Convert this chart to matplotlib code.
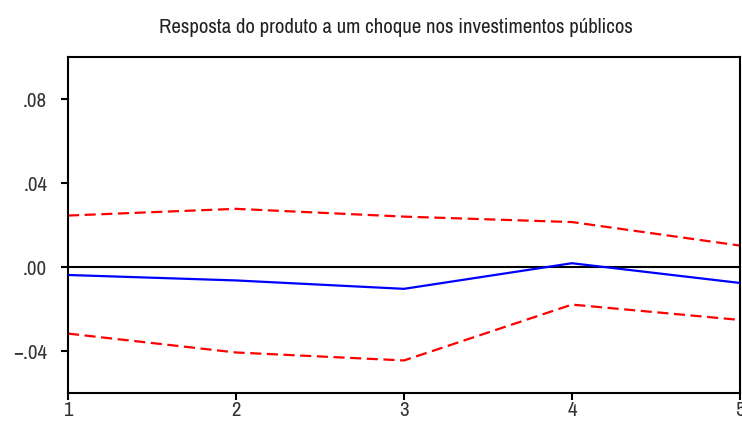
import matplotlib.pyplot as plt
from matplotlib import font_manager
from matplotlib.ticker import FixedLocator, FuncFormatter

# impulse response of output to a public investment shock, with +/- 2 s.e. bands
periods = [1, 2, 3, 4, 5]
response = [-0.0038, -0.0064, -0.0104, 0.0018, -0.0076]
upper_band = [0.0245, 0.0277, 0.0240, 0.0214, 0.0102]
lower_band = [-0.0317, -0.0407, -0.0445, -0.0179, -0.0252]

y_ticks = [-0.04, 0.00, 0.04, 0.08]

names = sorted({f.name for f in font_manager.fontManager.ttflist})
narrow = [n for n in names if 'Narrow' in n or 'Condensed' in n]
plt.rcParams['font.family'] = narrow[:1] + ['DejaVu Sans']
plt.rcParams['font.stretch'] = 'condensed'

fig = plt.figure(figsize=(7.42, 4.21), dpi=100)
ax = fig.add_axes([0.0916, 0.0665, 0.9057, 0.7981])

ax.axhline(0, color='black', lw=1.5, zorder=1)
ax.plot(periods, upper_band, color='#ff0000', lw=1.6, ls=(0, (5, 2.5)), zorder=2)
ax.plot(periods, lower_band, color='#ff0000', lw=1.6, ls=(0, (5, 2.5)), zorder=2)
ax.plot(periods, response, color='#0000ff', lw=1.6, zorder=3)

ax.set_xlim(1, 5)
ax.set_ylim(-0.06, 0.10)
ax.xaxis.set_major_locator(FixedLocator(periods))
ax.yaxis.set_major_locator(FixedLocator(y_ticks))


def fmt(v, pos):
    s = f"{abs(v):.2f}".lstrip('0')
    return ('\u2212' + s) if v < -1e-9 else s


ax.yaxis.set_major_formatter(FuncFormatter(fmt))
ax.tick_params(axis='both', direction='out', length=5, width=1.5,
               labelsize=15, colors='black', labelcolor='#333333')
ax.tick_params(axis='x', pad=1)
ax.tick_params(axis='y', pad=10)
for sp in ax.spines.values():
    sp.set_linewidth(1.5)

ax.set_title('Resposta do produto a um choque nos investimentos públicos',
             fontsize=15, color='#222222', pad=17, x=0.488)

fig.savefig('out.png', dpi=100)
